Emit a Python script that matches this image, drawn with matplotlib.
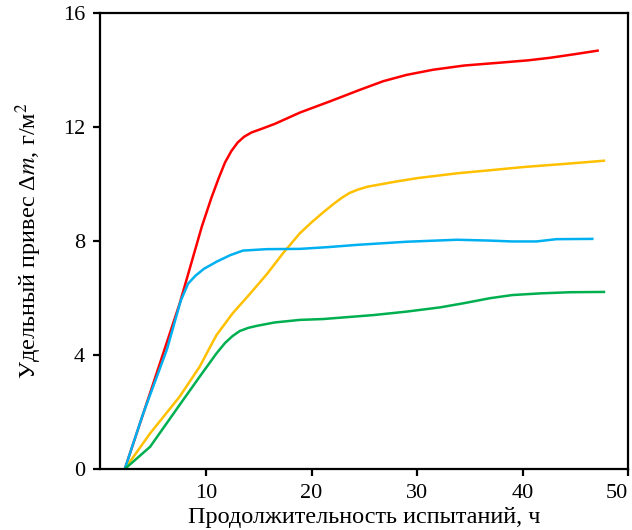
import numpy as np
import matplotlib
matplotlib.use('Agg')
import matplotlib.pyplot as plt

plt.rcParams['font.family'] = ['Liberation Serif', 'DejaVu Serif']
plt.rcParams['mathtext.fontset'] = 'stix'

# --- данные ---
red_t = [2.3, 5.0, 7.5, 9.6, 10.5, 11.2, 11.8, 12.4, 13.0, 13.6, 14.3, 15.2, 16.5, 18.9, 21.8, 24.6, 26.8, 29.0, 31.5, 34.5, 37.9, 40.5, 42.6, 45.0, 47.1]
red_m = [0.0, 3.0, 5.8, 8.5, 9.5, 10.2, 10.75, 11.15, 11.45, 11.65, 11.8, 11.92, 12.1, 12.5, 12.9, 13.3, 13.6, 13.82, 14.0, 14.15, 14.25, 14.33, 14.42, 14.55, 14.67]

blue_t = [2.3, 4.0, 6.3, 7.6, 8.3, 9.0, 9.8, 11.0, 12.3, 13.5, 15.75, 18.9, 21.5, 24.3, 29.0, 33.8, 36.9, 39.0, 41.3, 43.2, 46.6]
blue_m = [0.0, 1.9, 4.2, 5.9, 6.5, 6.78, 7.02, 7.27, 7.5, 7.66, 7.71, 7.72, 7.78, 7.86, 7.97, 8.04, 8.01, 7.98, 7.98, 8.06, 8.07]

yellow_t = [2.3, 4.7, 7.5, 9.4, 10.4, 11.0, 12.5, 14.2, 15.8, 17.3, 18.9, 20.0, 21.1, 22.1, 22.9, 23.6, 24.4, 25.3, 26.5, 28.0, 30.0, 33.8, 37.0, 40.1, 44.0, 47.7]
yellow_m = [0.0, 1.25, 2.54, 3.59, 4.29, 4.7, 5.45, 6.16, 6.85, 7.57, 8.27, 8.65, 9.0, 9.3, 9.52, 9.68, 9.8, 9.9, 9.98, 10.08, 10.2, 10.37, 10.48, 10.59, 10.7, 10.81]

green_t = [2.3, 4.7, 7.5, 9.4, 11.0, 11.8, 12.5, 13.2, 14.0, 14.8, 16.5, 18.9, 21.1, 25.9, 29.0, 32.2, 34.5, 36.9, 39.0, 41.7, 44.5, 47.7]
green_m = [0.0, 0.78, 2.25, 3.24, 4.06, 4.42, 4.66, 4.84, 4.95, 5.02, 5.14, 5.23, 5.26, 5.4, 5.52, 5.67, 5.82, 5.99, 6.1, 6.16, 6.2, 6.21]

x_ticks = [10, 20, 30, 40, 50]
y_ticks = [0, 4, 8, 12, 16]

fig = plt.figure(figsize=(6.32, 5.30), dpi=100)
ax = fig.add_axes([0.159, 0.115, 0.835, 0.861])

lw = 1.8
ax.plot(red_t, red_m, color='#FF0000', lw=lw)
ax.plot(yellow_t, yellow_m, color='#FFC000', lw=lw)
ax.plot(blue_t, blue_m, color='#00B0F0', lw=lw)
ax.plot(green_t, green_m, color='#00B050', lw=lw)

ax.set_xlim(0, 50)
ax.set_ylim(0, 16)
ax.set_xticks(x_ticks)
ax.set_yticks(y_ticks)
ax.tick_params(direction='out', length=5, width=1.6, labelsize=16, pad=6)
ax.get_xticklabels()[-1].set_horizontalalignment('right')
for s in ax.spines.values():
    s.set_linewidth(1.6)

ax.set_xlabel('Продолжительность испытаний, ч', fontsize=17.5, labelpad=3)
ax.set_ylabel('Удельный привес Δ$m$, г/м$^2$', fontsize=17.5, labelpad=14)

fig.savefig('out.png', dpi=100)
